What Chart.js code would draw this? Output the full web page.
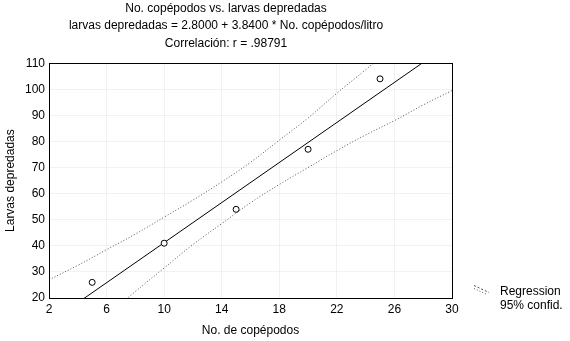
<!DOCTYPE html>
<html>
<head>
<meta charset="utf-8">
<script src="https://cdn.jsdelivr.net/npm/chart.js@4"></script>
<style>
  html, body { margin: 0; padding: 0; background: #fff; }
  #wrap { width: 570px; height: 341px; }
</style>
</head>
<body>
<div id="wrap"><canvas id="myChart" width="570" height="341"></canvas></div>
<script>
// observed points
var copepodos = [5, 10, 15, 20, 25]
var larvas = [26, 41, 54, 77, 104]

// regression line, read at the plot edges
var lineX = [2, 30]
var lineY = [10.5, 118]

// 95% confidence bands
var bandX = [2, 4, 6, 8, 10, 12, 14, 16, 18, 20, 22, 24, 26, 28, 30]
var bandUpper = [27, 32.5, 38.5, 44.5, 51, 57.5, 64.5, 72, 80.5, 89, 98.5, 107.5, 117, 126.5, 136]
var bandLower = [-6, 3.5, 13, 22.5, 31.5, 40.5, 48.5, 56.5, 63.5, 70, 76.5, 82.5, 88, 94, 99.5]

var titleLines = [
    'No. copépodos vs. larvas depredadas',
    'larvas depredadas = 2.8000 + 3.8400 * No. copépodos/litro',
    'Correlación: r = .98791'
]
var xTicks = [2, 6, 10, 14, 18, 22, 26, 30]
var yTicks = [20, 30, 40, 50, 60, 70, 80, 90, 100, 110]

function pairs(xs, ys) {
    let out = []
    for (let i = 0; i < xs.length; i++) {
        out.push({ x: xs[i], y: ys[i] })
    }
    return out
}

var FONT = 'Arial, "Liberation Sans", sans-serif'

// box round the plot + the little legend at the bottom right
var extras = {
    id: 'extras',
    afterDatasetsDraw: function(chart) {
        let a = chart.chartArea
        let c = chart.ctx
        c.save()
        c.strokeStyle = '#000'
        c.lineWidth = 1
        c.strokeRect(Math.round(a.left) + 0.5, Math.round(a.top) + 0.5,
            Math.round(a.right - a.left), Math.round(a.bottom - a.top))
        c.restore()
    },
    afterDraw: function(chart) {
        let c = chart.ctx
        c.save()
        c.lineWidth = 1
        c.strokeStyle = '#444'
        c.setLineDash([2, 2])
        c.beginPath()
        c.moveTo(474, 285.5)
        c.lineTo(489, 292.5)
        c.stroke()
        c.strokeStyle = '#555'
        c.setLineDash([1, 2])
        c.beginPath()
        c.moveTo(474, 288.5)
        c.lineTo(486, 294)
        c.stroke()
        c.setLineDash([])
        c.fillStyle = '#000'
        c.font = '12px ' + FONT
        c.textBaseline = 'middle'
        c.fillText('Regression', 500, 292)
        c.fillText('95% confid.', 500, 306)
        c.restore()
    }
}

var ctx = document.getElementById('myChart').getContext('2d')

var chart = new Chart(ctx, {
    type: 'scatter',
    data: {
        datasets: [{
            label: 'Larvas',
            data: pairs(copepodos, larvas),
            pointStyle: 'circle',
            pointRadius: 3,
            pointBorderColor: '#000',
            pointBackgroundColor: '#fff',
            pointBorderWidth: 1,
            showLine: false
        }, {
            label: 'Regression',
            data: pairs(lineX, lineY),
            showLine: true,
            borderColor: '#000',
            borderWidth: 1,
            pointRadius: 0
        }, {
            label: 'Upper',
            data: pairs(bandX, bandUpper),
            showLine: true,
            borderColor: '#555',
            borderWidth: 1,
            borderDash: [1, 2],
            tension: 0.4,
            pointRadius: 0
        }, {
            label: 'Lower',
            data: pairs(bandX, bandLower),
            showLine: true,
            borderColor: '#555',
            borderWidth: 1,
            borderDash: [1, 2],
            tension: 0.4,
            pointRadius: 0
        }]
    },
    options: {
        responsive: false,
        animation: false,
        layout: {
            padding: { left: 0, right: 118, top: 0, bottom: 0 }
        },
        plugins: {
            legend: { display: false },
            tooltip: { enabled: false },
            title: {
                display: true,
                text: titleLines,
                color: '#000',
                font: { family: FONT, size: 12, weight: 'normal', lineHeight: 1.45 },
                padding: { top: 0, bottom: 11 }
            }
        },
        scales: {
            x: {
                type: 'linear',
                min: 2,
                max: 30,
                afterBuildTicks: function(scale) {
                    scale.ticks = xTicks.map(v => ({ value: v }))
                },
                afterFit: function(scale) { scale.height = 43 },
                grid: {
                    display: true,
                    drawTicks: false,
                    color: 'rgba(0,0,0,0.05)'
                },
                border: { display: false },
                ticks: {
                    color: '#000',
                    padding: 4,
                    maxRotation: 0,
                    font: { family: FONT, size: 12 }
                },
                title: {
                    display: true,
                    text: 'No. de copépodos',
                    color: '#000',
                    font: { family: FONT, size: 12 },
                    padding: { top: 0, bottom: 3 }
                }
            },
            y: {
                type: 'linear',
                min: 20,
                max: 110,
                afterBuildTicks: function(scale) {
                    scale.ticks = yTicks.map(v => ({ value: v }))
                },
                afterFit: function(scale) { scale.width = 49 },
                grid: {
                    display: true,
                    drawTicks: false,
                    color: 'rgba(0,0,0,0.05)'
                },
                border: { display: false },
                ticks: {
                    color: '#000',
                    padding: 4,
                    font: { family: FONT, size: 12 }
                },
                title: {
                    display: true,
                    text: 'Larvas depredadas',
                    color: '#000',
                    font: { family: FONT, size: 12 },
                    padding: { top: 3, bottom: 0 }
                }
            }
        }
    },
    plugins: [extras]
})
</script>
</body>
</html>
